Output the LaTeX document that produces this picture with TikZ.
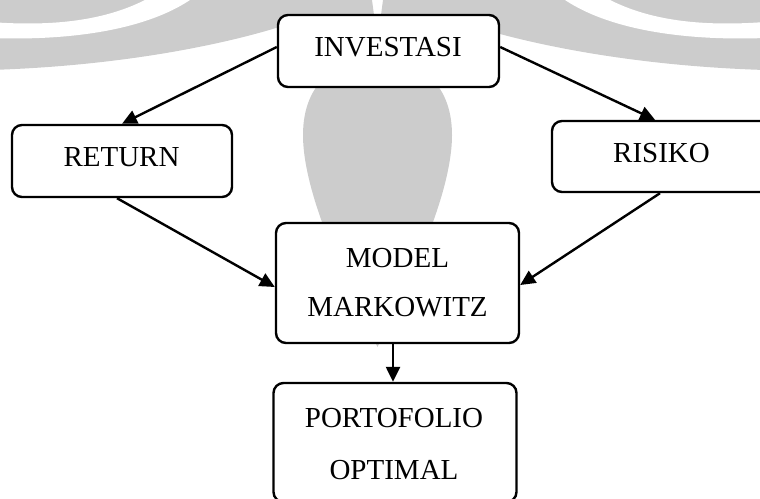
\documentclass[tikz,border=0pt]{standalone}
\usepackage{fontspec}
\setmainfont{Liberation Serif}
\usetikzlibrary{arrows.meta}
\definecolor{wmgray}{RGB}{204,204,204}
\begin{document}
\begin{tikzpicture}[x=1pt,y=-1pt,
  box/.style={draw=black, line width=2.4pt, rounded corners=10pt, fill=white, inner sep=0pt},
  lbl/.style={font=\fontsize{29}{50}\selectfont, align=center, inner sep=0pt},
  arr/.style={line width=2.4pt, -{Triangle[length=15pt,width=14pt]}}
]
\useasboundingbox (0,0) rectangle (760,498);
\clip (0,0) rectangle (760,498);
% faint watermark
\foreach \mir in {0,1}{
  \begin{scope}[xshift=\mir*755pt, xscale={1-2*\mir}]
    \fill[wmgray] (-10,0) -- (372,0) -- (376,30) -- (290,30) -- (276,28)
      .. controls (220,45) and (120,66) .. (-10,70) -- cycle;
    \fill[white] (-10,22) .. controls (70,28) and (115,15) .. (145,0) -- (190,0)
      .. controls (145,30) and (70,41) .. (-10,38) -- cycle;
  \end{scope}
}
\fill[wmgray] (377.5,347) .. controls (355,300) and (303,200) .. (303,135)
  .. controls (303,80) and (340,58) .. (377.5,58)
  .. controls (415,58) and (452,80) .. (452,135)
  .. controls (452,200) and (400,300) .. (377.5,347) -- cycle;
% boxes
\node[box, minimum width=221pt, minimum height=72pt] (inv) at (388.5,51) {};
\node[box, minimum width=220pt, minimum height=72pt] (ret) at (122,161) {};
\node[box, minimum width=220pt, minimum height=71pt] (ris) at (662,156.5) {};
\node[box, minimum width=243pt, minimum height=120pt] (mod) at (397.5,283) {};
\node[box, minimum width=243pt, minimum height=119pt] (por) at (395,442.5) {};
% texts
\node[lbl] (invt) at (388,47) {INVESTASI};
\node[lbl] (rett) at (121.5,157) {RETURN};
\node[lbl] (rist) at (661.5,153) {RISIKO};
\node[lbl, font=\fontsize{29}{49}\selectfont] (modt) at (397.5,282.5) {MODEL\\MARKOWITZ};
\node[lbl, font=\fontsize{29}{52}\selectfont] (port) at (394,444) {PORTOFOLIO\\OPTIMAL};
% connectors
\draw[arr] ([yshift=4pt]inv.west) -- (ret.north);
\draw[arr] ([yshift=4pt]inv.east) -- ([xshift=-7pt]ris.north);
\draw[arr] ([xshift=-5pt]ret.south) -- ([yshift=-4pt]mod.west);
\draw[arr] ([xshift=-2pt]ris.south) -- ([yshift=-2pt]mod.east);
\draw[arr] ([xshift=-4.5pt]mod.south) -- ([xshift=-2pt]por.north);
\end{tikzpicture}
\end{document}
